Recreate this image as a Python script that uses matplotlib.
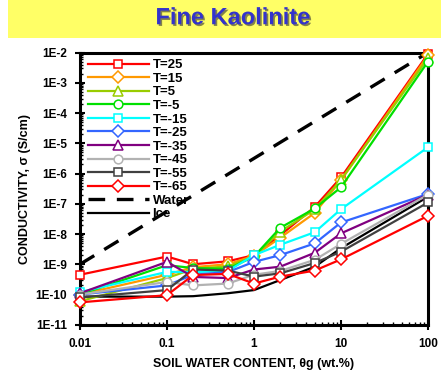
import matplotlib
matplotlib.use("Agg")
import matplotlib.pyplot as plt
import matplotlib.patheffects as pe
from matplotlib.patches import Rectangle
from matplotlib.ticker import LogLocator, FixedLocator, NullFormatter

plt.rcParams['font.family'] = ['Liberation Sans', 'DejaVu Sans']
plt.rcParams['font.weight'] = 'bold'

# soil water content (wt.%)
water_content = [0.01, 0.1, 0.2, 0.5, 1, 2, 5, 10, 100]

# conductivity (S/cm) per temperature
t_labels = ['T=25', 'T=15', 'T=5', 'T=-5', 'T=-15', 'T=-25', 'T=-35', 'T=-45', 'T=-55', 'T=-65']
t_25 = [4.5e-10, 1.8e-9, 1.0e-9, 1.25e-9, 2.0e-9, 9e-9, 7.9e-8, 7.4e-7, 9e-3]
t_15 = [1.0e-10, 4.5e-10, 8e-10, 1.0e-9, 1.9e-9, 7.5e-9, 5e-8, 6e-7, 8e-3]
t_5 = [6e-11, 3.5e-10, 7e-10, 8.5e-10, 1.8e-9, 1.2e-8, 6.5e-8, 6.2e-7, 6.5e-3]
t_m5 = [1.0e-10, 9.3e-10, 7.5e-10, 7e-10, 1.8e-9, 1.6e-8, 7e-8, 3.5e-7, 5e-3]
t_m15 = [1.2e-10, 5.6e-10, 5.5e-10, 6e-10, 2.0e-9, 4.4e-9, 1.15e-8, 6.6e-8, 7.4e-6]
t_m25 = [1.0e-10, 2e-10, 4.5e-10, 5.5e-10, 1.2e-9, 2e-9, 4.9e-9, 2.4e-8, 2.1e-7]
t_m35 = [1.1e-10, 1.2e-9, 3.8e-10, 3.5e-10, 6.7e-10, 8.3e-10, 2.4e-9, 1.05e-8, 2e-7]
t_m45 = [1.0e-10, 2.6e-10, 2e-10, 2.3e-10, 4.5e-10, 6e-10, 1.4e-9, 4.7e-9, 2e-7]
t_m55 = [8e-11, 1.4e-10, 6.7e-10, 6.2e-10, 3.9e-10, 5e-10, 1.1e-9, 2.6e-9, 1.1e-7]
t_m65 = [5.5e-11, 9.5e-11, 4.4e-10, 4.8e-10, 2.3e-10, 3.9e-10, 6.2e-10, 1.45e-9, 4e-8]
series = [t_25, t_15, t_5, t_m5, t_m15, t_m25, t_m35, t_m45, t_m55, t_m65]

water_x = [0.01, 100]
water_y = [1e-9, 1e-2]
ice_y = [8.5e-11, 8.5e-11, 8.8e-11, 1.1e-10, 1.4e-10, 3e-10, 8.3e-10, 3.4e-9, 1.7e-7]

colors = ['#ff0000', '#ff9900', '#99cc00', '#00e000', '#00ffff',
          '#3366ff', '#800080', '#b2b2b2', '#404040', '#ff0000']
markers = ['s', 'D', '^', 'o', 's', 'D', '^', 'o', 's', 'D']

fig = plt.figure(figsize=(4.41, 3.78), dpi=100)

# title banner
fig.patches.append(Rectangle((8 / 441, 1 - 38 / 378), 1 - 8 / 441, 38 / 378,
                             transform=fig.transFigure, facecolor='#ffff66',
                             edgecolor='none', zorder=0))
fig.text(0.528, 0.953, 'Fine Kaolinite', ha='center', va='center',
         fontsize=17, fontweight='bold', color='#3333cc',
         path_effects=[pe.withSimplePatchShadow(offset=(1.2, -1.2),
                                                shadow_rgbFace='#333333', alpha=0.6)])

ax = fig.add_axes([80 / 441, 1 - 324.75 / 378, 348 / 441, 272.25 / 378])

for vals, lab, c, m in zip(series, t_labels, colors, markers):
    ms = 7 if m == '^' else 6.3
    ax.plot(water_content, vals, color=c, lw=1.6, marker=m, ms=ms,
            markerfacecolor='white', markeredgecolor=c, markeredgewidth=1.1,
            label=lab, clip_on=False, zorder=3)

ax.plot(water_x, water_y, color='black', lw=2.4, dashes=(5, 3.5), label='Water', zorder=2)
ax.plot(water_content, ice_y, color='black', lw=1.6, label='Ice', zorder=2)

ax.set_xscale('log')
ax.set_yscale('log')
ax.set_xlim(0.01, 100)
ax.set_ylim(1e-11, 1e-2)

ax.xaxis.set_major_locator(FixedLocator([0.01, 0.1, 1, 10, 100]))
ax.set_xticklabels(['0.01', '0.1', '1', '10', '100'])
ax.yaxis.set_major_locator(FixedLocator([10.0 ** k for k in range(-11, -1)]))
ax.set_yticklabels(['1E%d' % k for k in range(-11, -1)])
ax.xaxis.set_minor_locator(LogLocator(base=10, subs=range(2, 10), numticks=20))
ax.yaxis.set_minor_locator(LogLocator(base=10, subs=range(2, 10), numticks=20))
ax.xaxis.set_minor_formatter(NullFormatter())
ax.yaxis.set_minor_formatter(NullFormatter())

ax.tick_params(which='major', direction='inout', length=7, width=1.5, labelsize=8.5, pad=6)
ax.tick_params(which='minor', direction='in', length=2.5, width=1)
for s in ax.spines.values():
    s.set_linewidth(2.2)

ax.set_xlabel('SOIL WATER CONTENT, θg (wt.%)', fontsize=9, fontweight='bold', labelpad=6)
ax.set_ylabel('CONDUCTIVITY, σ (S/cm)', fontsize=9, fontweight='bold', labelpad=3)

leg = ax.legend(loc='upper left', bbox_to_anchor=(0.0, 1.005), frameon=False,
                fontsize=9.5, handlelength=4.6, handletextpad=0.3,
                labelspacing=0.1, borderaxespad=0.2)

fig.savefig('out.png', dpi=100, facecolor='white')
